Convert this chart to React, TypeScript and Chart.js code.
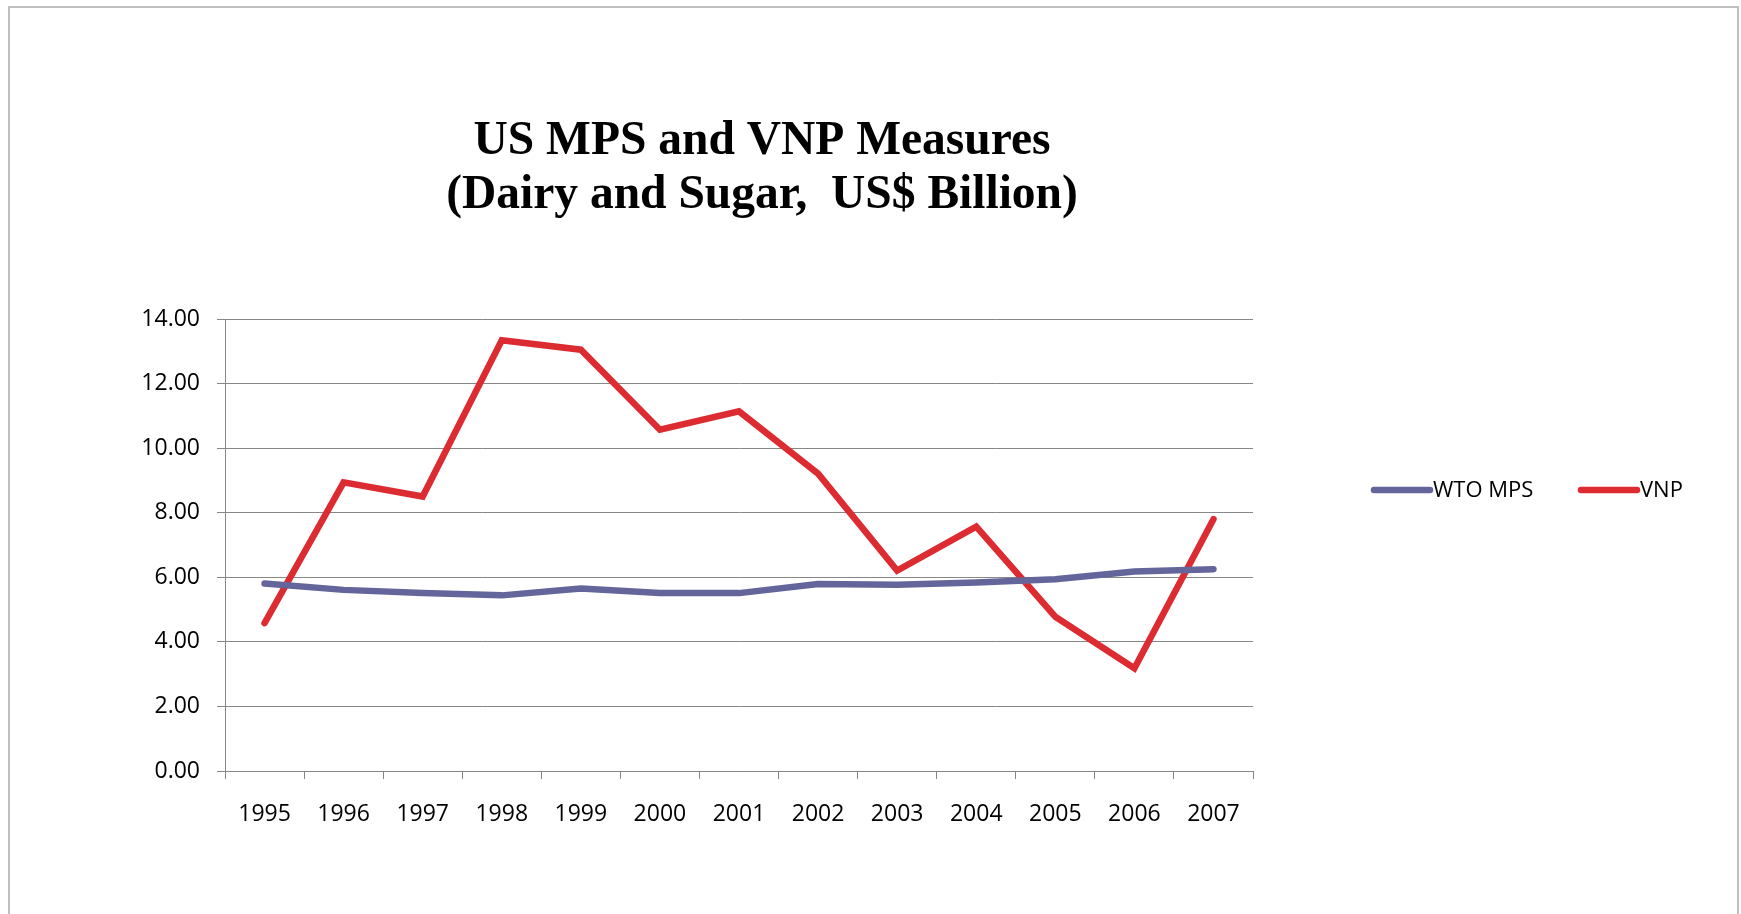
import React, { useEffect, useRef } from 'react';
import { Chart, registerables } from 'chart.js';

Chart.register(...registerables);

const TITLE_LINES = ['US MPS and VNP Measures', '(Dairy and Sugar,  US$ Billion)'];
const YEARS = ['1995', '1996', '1997', '1998', '1999', '2000', '2001', '2002', '2003', '2004', '2005', '2006', '2007'];
const WTO_MPS = [5.81, 5.61, 5.51, 5.44, 5.65, 5.51, 5.51, 5.79, 5.77, 5.84, 5.94, 6.18, 6.25];
const VNP = [4.58, 8.94, 8.5, 13.34, 13.05, 10.57, 11.14, 9.21, 6.21, 7.57, 4.78, 3.18, 7.8];
const SERIES_LABELS = ['WTO MPS', 'VNP'];
const SERIES_COLORS = ['#64669B', '#DD2B32'];
const Y_MIN = 0;
const Y_MAX = 14;
const Y_STEP = 2;

const W = 1741;
const H = 914;
const AXIS_COLOR = '#878787';
const TICK_FONT = { family: '"Open Sans", "Liberation Sans", sans-serif', size: 23 };

const titlePlugin = {
  id: 'customTitle',
  afterDraw(chart: any) {
    const ctx = chart.ctx;
    ctx.save();
    ctx.fillStyle = '#000';
    ctx.font = 'bold 47.5px "Liberation Serif", "Times New Roman", serif';
    ctx.textAlign = 'center';
    ctx.textBaseline = 'alphabetic';
    const baselines = [154, 208];
    TITLE_LINES.forEach((line, i) => ctx.fillText(line, 762, baselines[i]));
    ctx.restore();
  },
};

const legendPlugin = {
  id: 'customLegend',
  afterDraw(chart: any) {
    const ctx = chart.ctx;
    const items = [
      { x0: 1374, x1: 1430, tx: 1433 },
      { x0: 1581, x1: 1637, tx: 1640 },
    ];
    const y = 490;
    ctx.save();
    chart.data.datasets.forEach((ds: any, i: number) => {
      const it = items[i];
      ctx.strokeStyle = ds.borderColor;
      ctx.lineWidth = 6.5;
      ctx.lineCap = 'round';
      ctx.beginPath();
      ctx.moveTo(it.x0, y);
      ctx.lineTo(it.x1, y);
      ctx.stroke();
      ctx.fillStyle = '#000';
      ctx.font = '22px "Open Sans", "Liberation Sans", sans-serif';
      ctx.textAlign = 'left';
      ctx.textBaseline = 'middle';
      ctx.fillText(ds.label, it.tx, y + 1);
    });
    ctx.restore();
  },
};

export default function App() {
  const canvasRef = useRef<HTMLCanvasElement | null>(null);

  useEffect(() => {
    document.body.style.margin = '0';
    const canvas = canvasRef.current;
    if (!canvas) return;
    const chart = new Chart(canvas, {
      type: 'line',
      data: {
        labels: YEARS,
        datasets: [
          {
            label: SERIES_LABELS[0],
            data: WTO_MPS,
            borderColor: SERIES_COLORS[0],
            backgroundColor: SERIES_COLORS[0],
            borderWidth: 6.5,
            pointRadius: 0,
            tension: 0,
            borderCapStyle: 'round',
            borderJoinStyle: 'round',
          },
          {
            label: SERIES_LABELS[1],
            data: VNP,
            borderColor: SERIES_COLORS[1],
            backgroundColor: SERIES_COLORS[1],
            borderWidth: 6.5,
            pointRadius: 0,
            tension: 0,
            borderCapStyle: 'round',
            borderJoinStyle: 'miter',
          },
        ],
      },
      options: {
        responsive: false,
        animation: false,
        devicePixelRatio: 1,
        layout: { padding: { left: 0, right: 488, top: 319, bottom: 83 } },
        plugins: {
          legend: { display: false },
          title: { display: false },
          tooltip: { enabled: false },
        },
        scales: {
          x: {
            offset: true,
            grid: {
              offset: true,
              drawOnChartArea: false,
              drawTicks: true,
              tickLength: 8,
              color: AXIS_COLOR,
              lineWidth: 1,
            },
            border: { color: AXIS_COLOR, width: 1 },
            ticks: {
              font: TICK_FONT,
              color: '#000',
              padding: 22,
              maxRotation: 0,
              autoSkip: false,
            },
            afterFit: (s: any) => {
              s.height = 60;
            },
          },
          y: {
            min: Y_MIN,
            max: Y_MAX,
            grid: { color: AXIS_COLOR, lineWidth: 1, tickLength: 8 },
            border: { color: AXIS_COLOR, width: 1 },
            ticks: {
              stepSize: Y_STEP,
              font: TICK_FONT,
              color: '#000',
              padding: 17,
              callback: (v: any) => Number(v).toFixed(2),
            },
            afterFit: (s: any) => {
              s.width = 225;
            },
          },
        },
      },
      plugins: [titlePlugin, legendPlugin],
    });
    return () => chart.destroy();
  }, []);

  return (
    <div style={{ position: 'relative', width: W, height: H, overflow: 'hidden', background: '#fff' }}>
      <div
        style={{
          position: 'absolute',
          left: 8,
          top: 6,
          width: 1727,
          height: 1000,
          borderTop: '2px solid #bfbfbf',
          borderLeft: '2px solid #bfbfbf',
          borderRight: '2px solid #bfbfbf',
        }}
      />
      <canvas ref={canvasRef} width={W} height={H} style={{ position: 'absolute', left: 0, top: 0 }} />
    </div>
  );
}
